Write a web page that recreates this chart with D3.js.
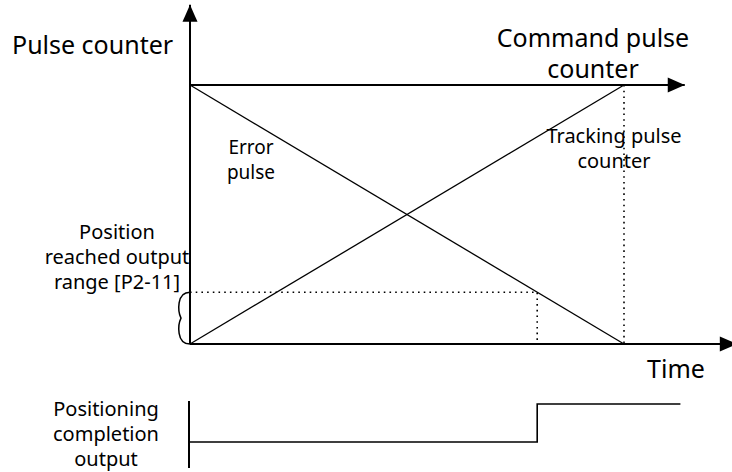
<!DOCTYPE html>
<html>
<head>
<meta charset="utf-8">
<style>
  body { margin: 0; background: #fff; }
  svg text { font-family: "Noto Sans", "Open Sans", sans-serif; fill: #000; }
</style>
</head>
<body>
<svg width="732" height="472"></svg>
<script src="https://d3js.org/d3.v7.min.js"></script>
<script>
  // values (time 0..10, pulse count 0..100)
  var commandPulse = [[0, 100], [10, 100]];
  var trackingPulse = [[0, 0], [10, 100]];
  var errorPulse = [[0, 100], [10, 0]];
  var reachedRange = 20;      // [P2-11]
  var reachedTime = 8;        // error pulse drops into range
  var completionOutput = [[0, 0], [8, 0], [8, 1], [11.3, 1]];
  var axisEnd = { time: 12.6, command: 11.4, pulse: 131 };

  var svg = d3.select("svg");
  var x = d3.scaleLinear().domain([0, 10]).range([190, 624]);
  var y = d3.scaleLinear().domain([0, 100]).range([344, 85]);
  var yOut = d3.scaleLinear().domain([0, 1]).range([442, 404]);

  var line = d3.line().x(function(d) { return x(d[0]); }).y(function(d) { return y(d[1]); });
  var outLine = d3.line().x(function(d) { return x(d[0]); }).y(function(d) { return yOut(d[1]); });

  // dotted guides
  var dots = svg.append("g").attr("stroke", "#000").attr("stroke-width", 1.6)
    .attr("stroke-dasharray", "1.6,4.1").attr("fill", "none");
  dots.append("path").attr("d", line([[0, reachedRange], [reachedTime, reachedRange], [reachedTime, 0]]));
  dots.append("path").attr("d", line([[10, 100], [10, 0]]));

  // diagonals
  svg.append("path").attr("d", line(trackingPulse)).attr("stroke", "#000").attr("stroke-width", 1.3).attr("fill", "none");
  svg.append("path").attr("d", line(errorPulse)).attr("stroke", "#000").attr("stroke-width", 1.3).attr("fill", "none");

  // axes
  function arrow(x1, y1, x2, y2) {
    svg.append("line").attr("x1", x1).attr("y1", y1).attr("x2", x2).attr("y2", y2)
      .attr("stroke", "#000").attr("stroke-width", 2);
    var a = Math.atan2(y2 - y1, x2 - x1), L = 17, W = 7.5;
    var bx = x2 - L * Math.cos(a), by = y2 - L * Math.sin(a);
    var px = -Math.sin(a) * W, py = Math.cos(a) * W;
    svg.append("polygon")
      .attr("points", [[x2, y2], [bx + px, by + py], [bx - px, by - py]].join(" "))
      .attr("fill", "#000");
  }
  arrow(x(0), y(0), x(0), y(axisEnd.pulse));
  arrow(x(0), y(0), x(axisEnd.time), y(0));
  arrow(x(0), y(commandPulse[0][1]), x(axisEnd.command), y(commandPulse[1][1]));

  // brace for the reached range
  var b0 = y(reachedRange), b1 = y(0), bm = (b0 + b1) / 2, bx0 = x(0);
  svg.append("path")
    .attr("d", "M" + bx0 + "," + b0 +
      " C" + (bx0 - 14) + "," + b0 + " " + (bx0 - 12) + "," + (bm - 6) + " " + (bx0 - 9) + "," + bm +
      " C" + (bx0 - 12) + "," + (bm + 6) + " " + (bx0 - 14) + "," + b1 + " " + bx0 + "," + b1)
    .attr("fill", "none").attr("stroke", "#000").attr("stroke-width", 1.5);

  // completion output signal
  svg.append("line").attr("x1", x(0) - 1).attr("x2", x(0) - 1).attr("y1", 401).attr("y2", 468)
    .attr("stroke", "#000").attr("stroke-width", 2);
  svg.append("path").attr("d", outLine(completionOutput)).attr("stroke", "#000").attr("stroke-width", 1.6).attr("fill", "none");

  // labels
  function label(lines, cx, y0, size, gap, anchor) {
    var t = svg.append("text").attr("font-size", size).attr("text-anchor", anchor || "middle");
    lines.forEach(function(s, i) {
      t.append("tspan").attr("x", cx).attr("y", y0 + i * gap).text(s);
    });
  }
  label(["Pulse counter"], 12, 54, 25, 0, "start");
  label(["Command pulse", "counter"], 593, 47, 25, 31);
  label(["Error", "pulse"], 251, 154, 19, 25);
  label(["Tracking pulse", "counter"], 614, 143, 20, 25);
  label(["Position", "reached output", "range [P2-11]"], 117, 239, 20, 25);
  label(["Time"], 676, 378, 25, 0);
  label(["Positioning", "completion", "output"], 106, 416, 20, 25);
</script>
</body>
</html>
